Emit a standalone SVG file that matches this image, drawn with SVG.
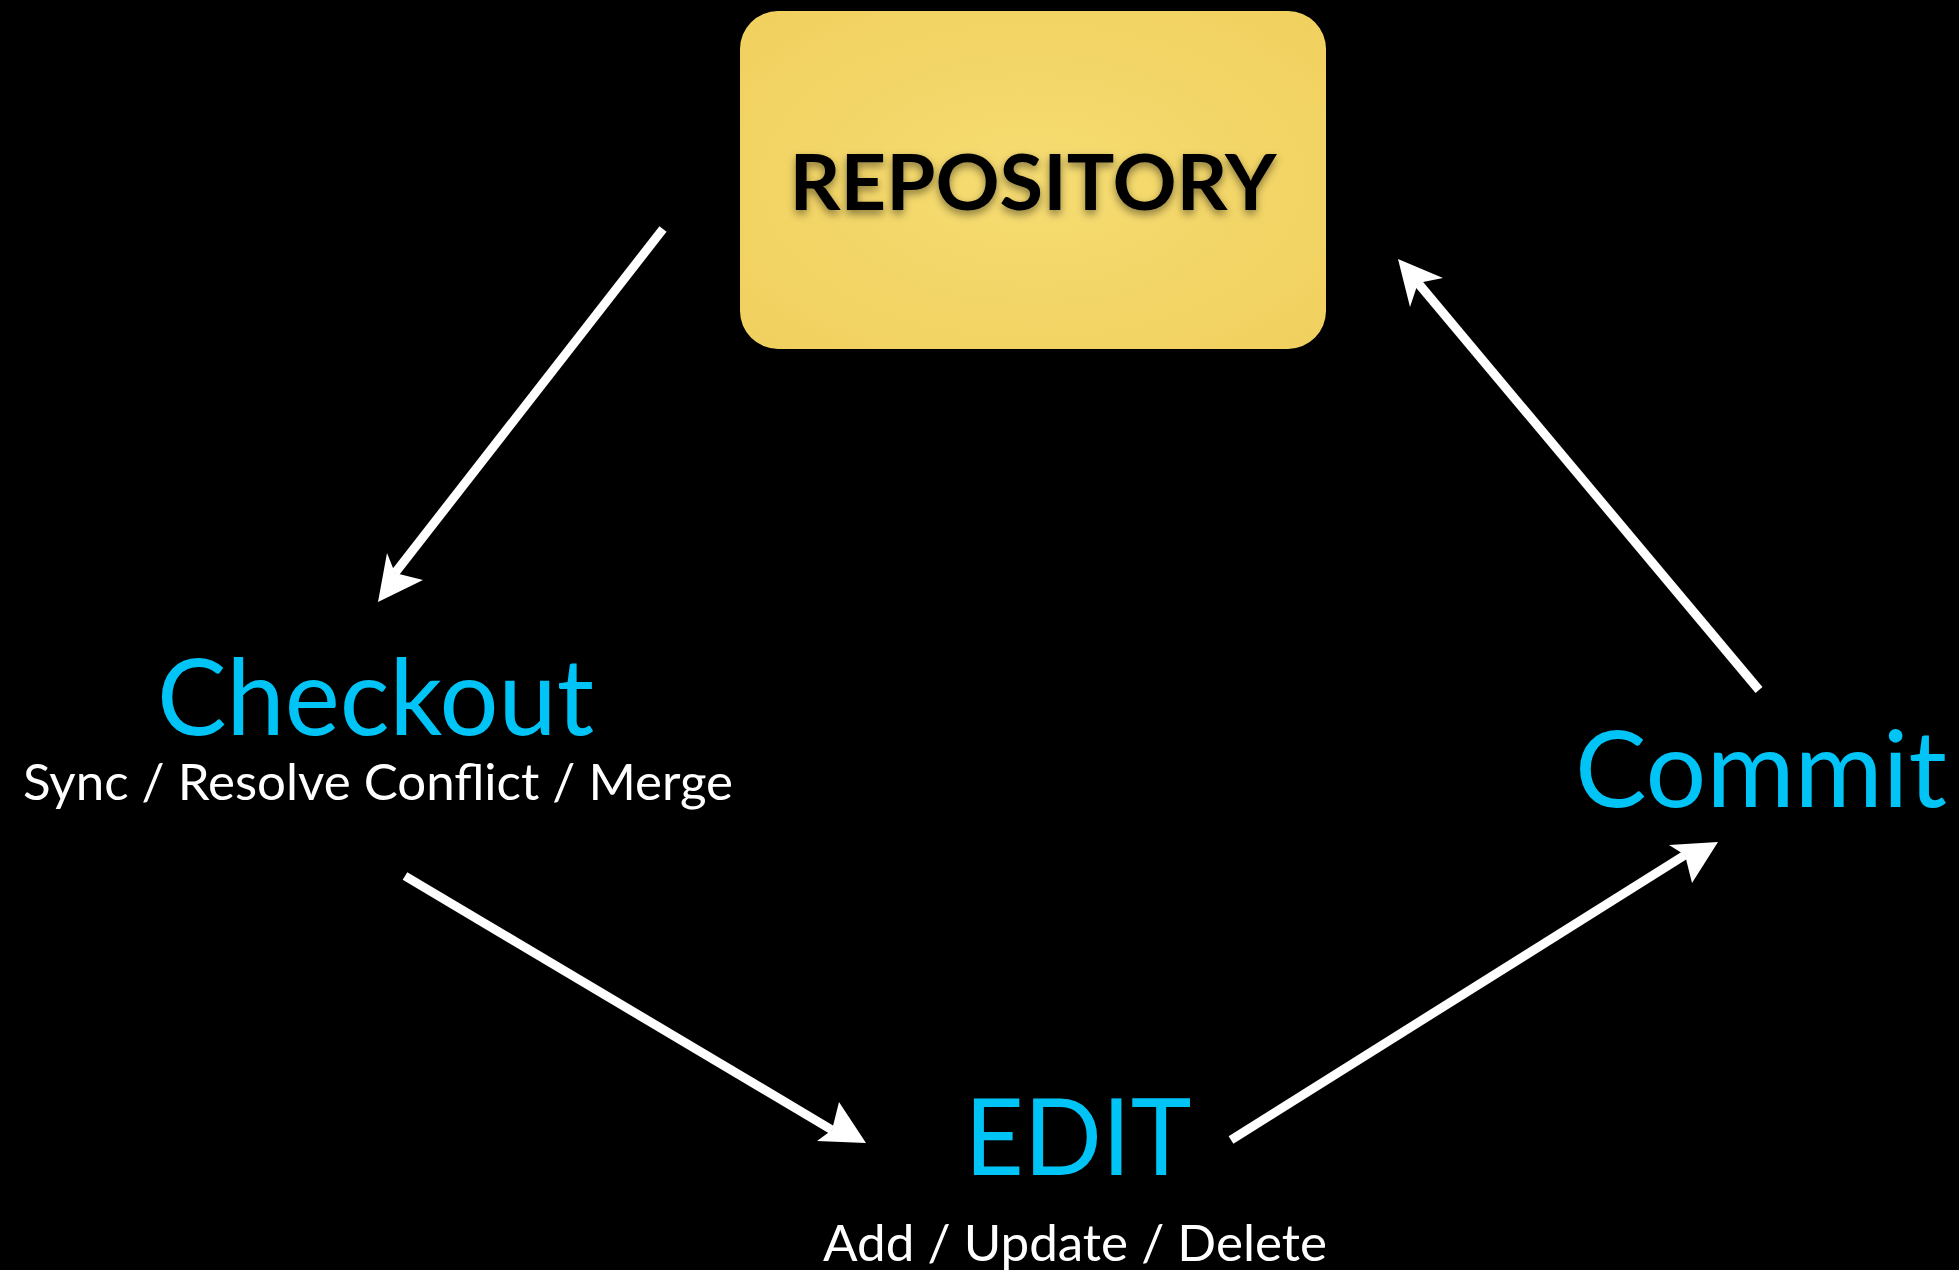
<svg xmlns="http://www.w3.org/2000/svg" width="1959" height="1270" viewBox="0 0 1959 1270">
<style>
.title{font-family:Lato,"Open Sans","Liberation Sans",sans-serif;fill:#00c4f6;font-size:107px;text-anchor:middle}
.sub{font-family:Lato,"Open Sans","Liberation Sans",sans-serif;fill:#ffffff;font-size:51px;text-anchor:middle}
.repo{font-family:Lato,"Open Sans","Liberation Sans",sans-serif;fill:#000000;font-size:76px;font-weight:bold;text-anchor:middle}
.line{stroke:#ffffff;stroke-width:9;fill:none}
.head{fill:#ffffff}
</style>
<defs>
<radialGradient id="paper" cx="0.5" cy="0.5" r="0.7">
<stop offset="0" stop-color="#f6dc72"/>
<stop offset="1" stop-color="#f0d05e"/>
</radialGradient>
<filter id="shadow" x="-10%" y="-30%" width="120%" height="160%">
<feDropShadow dx="0" dy="4" stdDeviation="4" flood-color="#000" flood-opacity="0.45"/>
</filter>
</defs>
<rect x="0" y="0" width="1959" height="1270" fill="#000000"/>
<g id="connectors">
<line class="line" x1="663" y1="229" x2="395" y2="573"/>
<polygon class="head" points="378,602 387,553 395,573 423,580"/>
<line class="line" x1="405" y1="876" x2="832" y2="1130"/>
<polygon class="head" points="866,1143 839,1102 832,1130 817,1141"/>
<line class="line" x1="1231" y1="1140" x2="1685" y2="855"/>
<polygon class="head" points="1718,842 1669,845 1685,855 1692,883"/>
<line class="line" x1="1759" y1="690" x2="1418" y2="283"/>
<polygon class="head" points="1398,259 1443,278 1418,283 1410,307"/>
</g>
<g id="repository">
<rect x="740" y="11" width="586" height="338" rx="38" ry="38" fill="url(#paper)"/>
<text class="repo" x="1033" y="210" textLength="487" lengthAdjust="spacingAndGlyphs" filter="url(#shadow)">REPOSITORY</text>
</g>
<g id="checkout">
<text class="title" x="375.5" y="735" textLength="437" lengthAdjust="spacingAndGlyphs">Checkout</text>
<text class="sub" x="378" y="800" textLength="710" lengthAdjust="spacingAndGlyphs">Sync / Resolve Conflict / Merge</text>
</g>
<g id="commit">
<text class="title" x="1761" y="807" textLength="372" lengthAdjust="spacingAndGlyphs">Commit</text>
</g>
<g id="edit">
<text class="title" x="1078" y="1175" textLength="227" lengthAdjust="spacingAndGlyphs">EDIT</text>
<text class="sub" x="1075" y="1261" textLength="504" lengthAdjust="spacingAndGlyphs">Add / Update / Delete</text>
</g>
</svg>
